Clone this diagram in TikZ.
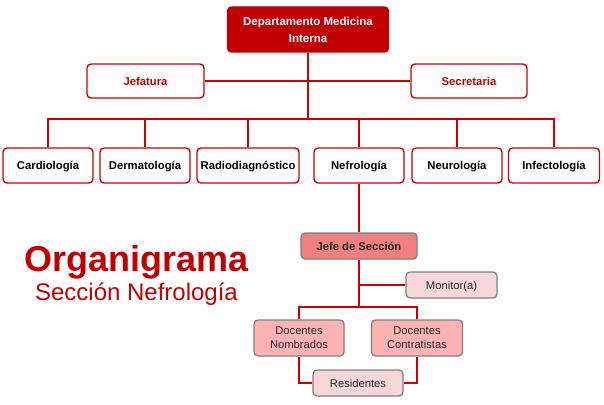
\documentclass[tikz,border=0pt]{standalone}
\usepackage{fontspec}
\setmainfont{Liberation Sans}
\definecolor{dred}{HTML}{C00000}
\definecolor{bred}{HTML}{CC0000}
\definecolor{jefefill}{HTML}{F08080}
\definecolor{docfill}{HTML}{FFB3B3}
\definecolor{palefill}{HTML}{F8D7DA}
\definecolor{gborder}{HTML}{7F7F7F}
\definecolor{dtext}{HTML}{262626}
\begin{document}
\begin{tikzpicture}[x=1pt,y=-1pt,
  box/.style={draw=bred,line width=1.4pt,rounded corners=4pt,fill=white,inner sep=0pt,align=center,font=\fontsize{11.3}{13}\selectfont\bfseries},
  one/.style={text height=8pt,text depth=0pt},
  topbox/.style={box,fill=dred,draw=dred,text=white,font=\fontsize{11.5}{17}\selectfont\bfseries},
  redtxt/.style={box,one,text=dred},
  lvl/.style={box,one,minimum width=90pt,minimum height=35pt},
  subbox/.style={draw=gborder,line width=1.3pt,rounded corners=4pt,inner sep=0pt,align=center,text=dtext,font=\fontsize{11.2}{14}\selectfont},
  conn/.style={draw=bred,line width=1.8pt}]
\useasboundingbox (0,0) rectangle (604,404);
\coordinate (busA) at (0,119);
\coordinate (busB) at (0,307);
% boxes
\node[topbox,minimum width=161pt,minimum height=45pt] (top) at (308,29.5) {Departamento Medicina\\Interna};
\node[redtxt,minimum width=117pt,minimum height=34pt] (jef) at (145.5,81) {Jefatura};
\node[redtxt,minimum width=116pt,minimum height=34pt] (sec) at (469,81) {Secretaria};
\node[lvl] (card) at (48,165.5) {Cardiología};
\node[lvl] (derm) at (145,165.5) {Dermatología};
\node[lvl,minimum width=102pt] (radi) at (248,165.5) {Radiodiagnóstico};
\node[lvl] (nefr) at (359,165.5) {Nefrología};
\node[lvl] (neur) at (457,165.5) {Neurología};
\node[lvl,minimum width=91pt] (infe) at (554,165.5) {Infectología};
\node[subbox,one,fill=jefefill,minimum width=116pt,minimum height=26pt,font=\fontsize{11.2}{13}\selectfont\bfseries] (jefe) at (359,246) {Jefe de Sección};
\node[subbox,one,fill=palefill,minimum width=91pt,minimum height=26pt] (moni) at (451.5,285) {Monitor(a)};
\node[subbox,fill=docfill,minimum width=90pt,minimum height=36pt] (dnom) at (299,338) {Docentes\\Nombrados};
\node[subbox,fill=docfill,minimum width=91pt,minimum height=36pt] (dcon) at (417,338) {Docentes\\Contratistas};
\node[subbox,one,fill=palefill,minimum width=90pt,minimum height=26pt] (resi) at (358,383) {Residentes};
% title
\node[text=dred,anchor=base,inner sep=0pt,font=\fontsize{36}{40}\selectfont\bfseries] (ttl) at (136.5,271) {Organigrama};
\node[text=dred,anchor=base,inner sep=0pt,font=\fontsize{24}{28}\selectfont] (sttl) at (136.5,300) {Sección Nefrología};
% connectors
\draw[conn] (top.south) -- (top.south |- busA);
\draw[conn] (jef.east) -- (sec.west);
\draw[conn] (card.north) |- (busA -| infe.north) -- (infe.north);
\draw[conn] (derm.north) -- (derm.north |- busA);
\draw[conn] (radi.north) -- (radi.north |- busA);
\draw[conn] (nefr.north) -- (nefr.north |- busA);
\draw[conn] (neur.north) -- (neur.north |- busA);
\draw[conn] (nefr.south) -- (jefe.north);
\draw[conn] (jefe.south) -- (jefe.south |- busB);
\draw[conn] (jefe.south |- moni.west) -- (moni.west);
\draw[conn] (dnom.north) |- (busB -| dcon.north) -- (dcon.north);
\draw[conn] (dnom.south) |- (resi.west);
\draw[conn] (dcon.south) |- (resi.east);
\end{tikzpicture}
\end{document}
